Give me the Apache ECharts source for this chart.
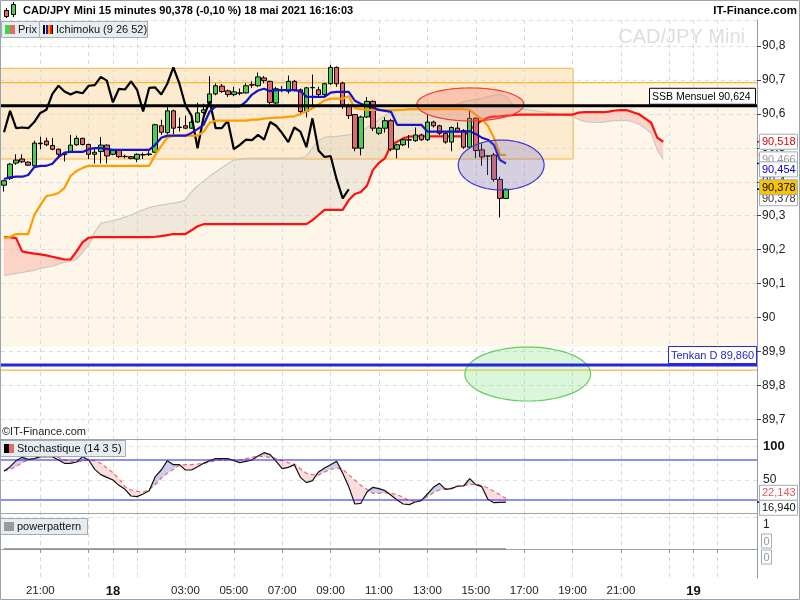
<!DOCTYPE html>
<html>
<head>
<meta charset="utf-8">
<title>CAD/JPY Mini</title>
<script src="https://cdn.jsdelivr.net/npm/echarts@6/dist/echarts.min.js"></script>
<style>
html,body{margin:0;padding:0;background:#fff;}
#chart{width:800px;height:600px;}
</style>
</head>
<body>
<div id="chart"></div>
<script>
// ================= DATA =================
// 15-minute bars, first bar 17 May 19:30, axis runs 125 slots (incl. future cloud)
const firstBar = { day: 17, hour: 19, minute: 30 };
const slotCount = 125;

const tickTimes  = ['17 21:00','17 23:00','18 00:00','18 01:00','18 03:00','18 05:00','18 07:00','18 09:00','18 11:00','18 13:00','18 15:00','18 17:00','18 19:00','18 21:00','18 23:00','19 00:00','19 01:00'];
const tickLabels = ['21:00','','18','','03:00','05:00','07:00','09:00','11:00','13:00','15:00','17:00','19:00','21:00','','19',''];
const dayLabels  = ['18','19'];

const candleOpen = [90.390,90.410,90.455,90.467,90.458,90.447,90.514,90.520,90.507,90.496,
 90.480,90.488,90.509,90.528,90.510,90.481,90.489,90.508,90.481,90.494,
 90.474,90.474,90.467,90.480,90.480,90.487,90.565,90.545,90.609,90.561,
 90.565,90.558,90.576,90.604,90.632,90.659,90.682,90.668,90.657,90.662,
 90.662,90.686,90.683,90.706,90.696,90.632,90.672,90.667,90.696,90.671,
 90.607,90.677,90.671,90.657,90.689,90.737,90.691,90.625,90.598,90.499,
 90.591,90.637,90.543,90.558,90.580,90.496,90.509,90.524,90.521,90.538,
 90.524,90.576,90.565,90.543,90.517,90.558,90.551,90.502,90.587,90.494,
 90.476,90.479,90.407,90.351];
const candleClose = [90.403,90.452,90.464,90.459,90.449,90.514,90.512,90.509,90.496,90.481,
 90.482,90.508,90.528,90.510,90.481,90.487,90.508,90.476,90.492,90.474,
 90.475,90.469,90.481,90.479,90.482,90.568,90.546,90.609,90.558,90.560,
 90.558,90.576,90.603,90.612,90.659,90.683,90.666,90.657,90.665,90.661,
 90.683,90.685,90.709,90.698,90.634,90.674,90.672,90.696,90.671,90.607,
 90.677,90.678,90.657,90.689,90.737,90.689,90.625,90.595,90.499,90.591,
 90.637,90.558,90.558,90.580,90.496,90.509,90.524,90.523,90.538,90.524,
 90.576,90.565,90.543,90.517,90.560,90.548,90.502,90.587,90.492,90.473,
 90.476,90.407,90.351,90.378];
const candleLow = [90.371,90.405,90.450,90.455,90.446,90.445,90.496,90.505,90.493,90.469,
 90.460,90.485,90.506,90.507,90.467,90.454,90.454,90.454,90.478,90.470,
 90.469,90.466,90.458,90.467,90.476,90.485,90.538,90.540,90.540,90.548,
 90.555,90.556,90.574,90.600,90.628,90.655,90.662,90.650,90.652,90.655,
 90.660,90.676,90.680,90.690,90.627,90.628,90.664,90.660,90.666,90.596,
 90.590,90.618,90.650,90.650,90.686,90.680,90.615,90.585,90.490,90.478,
 90.588,90.550,90.538,90.545,90.490,90.469,90.505,90.500,90.518,90.520,
 90.520,90.560,90.538,90.512,90.490,90.544,90.497,90.498,90.470,90.447,
 90.420,90.400,90.295,90.350];
const candleHigh = [90.406,90.455,90.481,90.481,90.460,90.521,90.533,90.530,90.529,90.498,
 90.486,90.538,90.536,90.530,90.512,90.502,90.532,90.510,90.495,90.497,
 90.480,90.476,90.484,90.486,90.490,90.571,90.583,90.620,90.613,90.589,
 90.595,90.585,90.633,90.630,90.711,90.690,90.688,90.672,90.680,90.675,
 90.690,90.696,90.722,90.712,90.698,90.680,90.682,90.713,90.700,90.675,
 90.680,90.716,90.680,90.692,90.745,90.740,90.695,90.630,90.600,90.595,
 90.650,90.640,90.562,90.590,90.585,90.512,90.528,90.538,90.560,90.542,
 90.600,90.580,90.568,90.548,90.563,90.575,90.555,90.613,90.590,90.513,
 90.478,90.485,90.415,90.381];

const tenkan = [90.408,90.413,90.415,90.415,90.420,90.443,90.447,90.447,90.453,90.473,
 90.486,90.488,90.488,90.488,90.496,90.499,90.499,90.497,90.494,90.494,
 90.494,90.494,90.494,90.494,90.494,90.509,90.530,90.536,90.536,90.536,
 90.536,90.544,90.555,90.568,90.607,90.622,90.622,90.622,90.622,90.622,
 90.636,90.657,90.669,90.674,90.667,90.670,90.670,90.670,90.670,90.667,
 90.651,90.650,90.650,90.650,90.663,90.665,90.665,90.665,90.639,90.630,
 90.624,90.618,90.612,90.609,90.606,90.568,90.568,90.568,90.568,90.568,
 90.548,90.548,90.548,90.548,90.548,90.548,90.548,90.549,90.541,90.530,
 90.524,90.509,90.464,90.454];
const kijun = [90.234,90.238,90.246,90.246,90.246,90.302,90.331,90.358,90.361,90.367,
 90.382,90.417,90.432,90.441,90.447,90.447,90.447,90.447,90.447,90.447,
 90.447,90.447,90.447,90.447,90.447,90.479,90.506,90.530,90.536,90.536,
 90.536,90.536,90.536,90.547,90.574,90.580,90.580,90.580,90.580,90.580,
 90.580,90.583,90.583,90.586,90.588,90.589,90.590,90.592,90.593,90.600,
 90.608,90.617,90.628,90.640,90.645,90.645,90.645,90.652,90.617,90.614,
 90.612,90.612,90.612,90.612,90.612,90.612,90.612,90.614,90.614,90.614,
 90.614,90.614,90.614,90.614,90.614,90.614,90.614,90.612,90.598,90.585,
 90.565,90.530,90.479,90.479];
const chikou = [90.546,90.609,90.558,90.560,90.558,90.576,90.603,90.612,90.659,90.683,
 90.666,90.657,90.665,90.661,90.683,90.685,90.709,90.698,90.634,90.674,
 90.672,90.696,90.671,90.607,90.677,90.678,90.657,90.689,90.737,90.689,
 90.625,90.595,90.499,90.591,90.637,90.558,90.558,90.580,90.496,90.509,
 90.524,90.523,90.538,90.524,90.576,90.565,90.543,90.517,90.560,90.548,
 90.502,90.587,90.492,90.473,90.476,90.407,90.351,90.378];
const senkouB = [90.237,90.237,90.234,90.195,90.191,90.188,90.186,90.183,90.179,90.175,
 90.171,90.171,90.195,90.222,90.235,90.237,90.237,90.237,90.237,90.237,
 90.237,90.237,90.237,90.237,90.237,90.238,90.240,90.243,90.246,90.246,
 90.246,90.257,90.269,90.275,90.275,90.275,90.275,90.275,90.275,90.275,
 90.275,90.275,90.275,90.275,90.275,90.275,90.275,90.275,90.275,90.275,
 90.275,90.287,90.302,90.317,90.317,90.317,90.317,90.346,90.364,90.370,
 90.388,90.435,90.456,90.470,90.509,90.518,90.528,90.533,90.534,90.534,
 90.534,90.534,90.534,90.534,90.534,90.534,90.534,90.553,90.568,90.580,
 90.589,90.592,90.593,90.595,90.596,90.598,90.598,90.598,90.598,90.598,
 90.598,90.598,90.598,90.598,90.598,90.604,90.605,90.605,90.605,90.605,
 90.607,90.610,90.611,90.611,90.605,90.599,90.587,90.574,90.530,90.518];
const senkouA = [90.124,90.127,90.130,90.133,90.136,90.139,90.145,90.148,90.151,90.157,
 90.163,90.166,90.172,90.192,90.213,90.251,90.278,90.281,90.286,90.290,
 90.296,90.302,90.311,90.317,90.324,90.328,90.331,90.334,90.337,90.340,
 90.346,90.370,90.388,90.402,90.416,90.429,90.441,90.453,90.464,90.467,
 90.469,90.470,90.470,90.470,90.470,90.470,90.470,90.470,90.470,90.470,
 90.476,90.500,90.521,90.531,90.533,90.534,90.536,90.538,90.543,90.550,
 90.559,90.571,90.583,90.595,90.604,90.609,90.612,90.612,90.612,90.612,
 90.613,90.614,90.617,90.621,90.626,90.630,90.636,90.639,90.642,90.646,
 90.651,90.655,90.657,90.652,90.630,90.618,90.614,90.612,90.609,90.607,
 90.604,90.601,90.598,90.595,90.593,90.584,90.578,90.576,90.575,90.575,
 90.579,90.580,90.580,90.581,90.577,90.570,90.558,90.544,90.494,90.466];

const stochK = [63,70,79,84,81,82,85,85,85,80,
 75,75,77,85,80,66,58,54,50,42,
 36,26,25,29,34,55,65,79,73,73,
 65,65,70,75,79,82,82,82,79,76,
 78,80,86,91,88,78,67,69,73,54,
 46,49,62,68,73,78,60,40,14,15,
 32,39,37,34,27,20,14,13,17,19,
 29,39,45,36,37,41,41,52,43,40,
 21,16,16.5,16.94];
const stochD = [64,66,70,76,80,82,84,85,85,84,
 80,78,77,78,80,79,75,68,61,52,
 40,35,33,32,36,43,53,60,66,72,
 73,73,74,75,77,79,80,80,80,80,
 82,84,86,85,84,82,79,76,74,67,
 60,58,57.5,62,66,68,66,58,50,42,
 36,30,30,31,30,28,24,19,18,20,
 25,31,35,37,38,40,42,43,44,42,
 38,33,28,22.143];
const stochLevels = [80, 20];

const powerPattern = [0,0,0,0,0,0,0,0,0,0,0,0,0,0,0,0,0,0,0,0,0,0,0,0,0,0,0,0,0,0,
 0,0,0,0,0,0,0,0,0,0,0,0,0,0,0,0,0,0,0,0,0,0,0,0,0,0,0,0,0,0,
 0,0,0,0,0,0,0,0,0,0,0,0,0,0,0,0,0,0,0,0,0,0,0,0];

// chart annotations (price levels)
const ssbMensuel = 90.624;
const tenkanDaily = 89.860;
const orangeLevels = [90.692, 89.845];
const zoneTop = 90.692, zoneBottom = 89.913;
const boxTop = 90.7345, boxBottom = 90.467, boxEndBar = 94.1;
const ellipses = [
  { cx: 77.1, cy: 90.628, rx: 8.85, ry: 0.0486 },
  { cx: 82.2, cy: 90.4494, rx: 7.1, ry: 0.0737 },
  { cx: 86.6, cy: 89.8335, rx: 10.4, ry: 0.0796 }
];
const ellipseStyles = [
  { fill: 'rgba(247,120,100,0.33)', stroke: '#ef3d3d' },
  { fill: 'rgba(105,105,205,0.27)', stroke: '#3d3dd6' },
  { fill: 'rgba(150,228,150,0.33)', stroke: '#5fcf5f' }
];

// ================= BUILD =================
const FONT = "'Liberation Sans', Arial, sans-serif";
const cats = [];
for (let i = 0; i < slotCount; i++) {
  const m = firstBar.hour * 60 + firstBar.minute + 15 * i;
  const d = firstBar.day + Math.floor(m / 1440);
  const mm = m % 1440;
  cats.push(d + ' ' + String(Math.floor(mm / 60)).padStart(2, '0') + ':' + String(mm % 60).padStart(2, '0'));
}
const tickIdx = new Set(tickTimes.map(t => cats.indexOf(t)));
const labelMap = {};
tickTimes.forEach((t, k) => { if (tickLabels[k]) labelMap[t] = tickLabels[k]; });
const labelIdx = new Set(Object.keys(labelMap).map(t => cats.indexOf(t)));

const candles = candleOpen.map((o, i) => [o, candleClose[i], candleLow[i], candleHigh[i]]);
const cloudBase = senkouA.map((a, i) => Math.min(a, senkouB[i]));
const cloudPink = senkouA.map((a, i) => Math.max(senkouB[i] - a, 0));
const cloudGrey = senkouA.map((a, i) => Math.max(a - senkouB[i], 0));
const stBase = stochK.map((k, i) => Math.min(k, stochD[i]));
const stPink = stochK.map((k, i) => Math.max(stochD[i] - k, 0));
const stBlue = stochK.map((k, i) => Math.max(k - stochD[i], 0));

function fmtPrice(v) {
  const r = Math.round(v * 10);
  if (Math.abs(v * 10 - r) > 1e-6) return '';
  let s = (r / 10).toFixed(1);
  if (s.endsWith('.0')) s = s.slice(0, -2);
  return s.replace('.', ',');
}
const fmt3 = v => v.toFixed(3).replace('.', ',');

function xAxisFor(gi, bottom) {
  return {
    type: 'category', gridIndex: gi, data: cats, boundaryGap: true,
    axisLine: { show: true, lineStyle: { color: '#98a4ad', width: 1 } },
    axisTick: { show: bottom, alignWithLabel: true, interval: (i) => tickIdx.has(i), length: 4, lineStyle: { color: '#8b979f' } },
    axisLabel: {
      show: bottom, interval: (i) => labelIdx.has(i), margin: 7, color: '#222', fontSize: 11.5, fontFamily: FONT,
      formatter: (v) => { const l = labelMap[v] || ''; return dayLabels.includes(l) ? '{b|' + l + '}' : l; },
      rich: { b: { fontWeight: 'bold', fontSize: 13, color: '#111', fontFamily: FONT } }
    },
    splitLine: { show: true, alignWithLabel: true, interval: (i) => tickIdx.has(i), lineStyle: { color: '#d9d9d9', type: [4, 4], width: 1 } }
  };
}
function lineS(data, color, width, xi, extra) {
  return Object.assign({
    type: 'line', data: data, xAxisIndex: xi, yAxisIndex: xi, symbol: 'none', smooth: false,
    lineStyle: { color: color, width: width }, itemStyle: { color: color }, silent: true, animation: false
  }, extra || {});
}
function stackS(data, stack, fill, xi, z) {
  return {
    type: 'line', data: data, xAxisIndex: xi, yAxisIndex: xi, stack: stack, symbol: 'none',
    lineStyle: { opacity: 0, width: 0 }, areaStyle: fill ? { color: fill, opacity: 1 } : undefined,
    silent: true, z: z, animation: false
  };
}

const chart = echarts.init(document.getElementById('chart'), null, { renderer: 'canvas', width: 800, height: 600 });

const option = {
  animation: false,
  backgroundColor: '#ffffff',
  textStyle: { fontFamily: FONT },
  grid: [
    { left: 1, right: 43, top: 20, height: 419, containLabel: false, outerBoundsMode: 'none' },
    { left: 1, right: 43, top: 439, height: 78, containLabel: false, outerBoundsMode: 'none' },
    { left: 1, right: 43, top: 517, height: 61, containLabel: false, outerBoundsMode: 'none' }
  ],
  xAxis: [xAxisFor(0, false), xAxisFor(1, false), xAxisFor(2, true)],
  yAxis: [
    {
      type: 'value', gridIndex: 0, position: 'right', min: 89.6419, max: 90.8768, splitNumber: 12,
      axisLine: { show: true, lineStyle: { color: '#8e9ba6' } },
      axisTick: { show: true, length: 4, lineStyle: { color: '#444' } },
      axisLabel: { formatter: fmtPrice, color: '#222', fontSize: 12, margin: 5, showMinLabel: false, showMaxLabel: false, fontFamily: FONT },
      splitLine: { show: true, lineStyle: { color: '#dcdcdc', type: [4, 4] } }
    },
    {
      type: 'value', gridIndex: 1, position: 'right', min: -5.5, max: 111.5, splitNumber: 2,
      axisLine: { show: true, lineStyle: { color: '#8e9ba6' } },
      axisTick: { show: false },
      axisLabel: {
        color: '#222', fontSize: 12, margin: 6, showMinLabel: false, showMaxLabel: false, fontFamily: FONT,
        formatter: v => v === 100 ? '{b|100}' : (v === 50 ? '50' : ''),
        rich: { b: { fontWeight: 'bold', fontSize: 13, color: '#111', fontFamily: FONT } }
      },
      splitLine: { show: true, lineStyle: { color: '#e2e2e2', type: [4, 4] } }
    },
    {
      type: 'value', gridIndex: 2, position: 'right', min: -1.2083, max: 1.3333, splitNumber: 2,
      axisLine: { show: true, lineStyle: { color: '#8e9ba6' } },
      axisTick: { show: false },
      axisLabel: { color: '#222', fontSize: 12, margin: 6, showMinLabel: false, showMaxLabel: false, fontFamily: FONT,
        formatter: v => v === 1 ? '1' : '' },
      splitLine: { show: false }
    }
  ],
  series: [
    stackS(cloudBase, 'cloud', null, 0, 1),
    stackS(cloudPink, 'cloud', 'rgba(247,175,165,0.5)', 0, 1),
    stackS(cloudGrey, 'cloud', 'rgba(190,185,175,0.22)', 0, 1),
    lineS(senkouA, '#c9c9c9', 1.2, 0, { z: 2 }),
    lineS(senkouB, '#ff1010', 2.2, 0, { z: 2 }),
    {
      type: 'candlestick', data: candles, xAxisIndex: 0, yAxisIndex: 0, barWidth: 5, z: 3, silent: true,
      itemStyle: { color: '#4cd04c', color0: '#e46a6a', borderColor: '#000', borderColor0: '#000', borderWidth: 1 }
    },
    lineS(chikou, '#000000', 2.2, 0, { z: 4 }),
    lineS(kijun, '#ff9c00', 2.2, 0, { z: 4 }),
    lineS(tenkan, '#1414c8', 2.2, 0, { z: 4 }),
    stackS(stBase, 'st', null, 1, 1),
    stackS(stPink, 'st', 'rgba(242,160,160,0.35)', 1, 1),
    stackS(stBlue, 'st', 'rgba(125,125,215,0.38)', 1, 1),
    lineS(stochD, '#ea6a6a', 1.2, 1, { z: 3, lineStyle: { color: '#ea6a6a', width: 1.2, type: [4, 3] } }),
    lineS(stochK, '#111111', 1.2, 1, { z: 4 }),
    lineS(powerPattern, '#8a8a8a', 1.5, 2, { z: 3 })
  ]
};
chart.setOption(option);

// ================= ANNOTATIONS (positioned through the chart's scales) =================
function buildGraphics() {
  const g = [];
  const xa = chart.convertToPixel({ xAxisIndex: 0 }, 0);
  const xb = chart.convertToPixel({ xAxisIndex: 0 }, 100);
  const bw = (xb - xa) / 100;
  const xAt = i => xa + i * bw;
  const yAt = v => chart.convertToPixel({ yAxisIndex: 0 }, v);
  const ySt = v => chart.convertToPixel({ yAxisIndex: 1 }, v);
  const yPp = v => chart.convertToPixel({ yAxisIndex: 2 }, v);
  const L = 1, R = 757;
  const F11 = '11px ' + FONT;

  // background zones
  g.push({ type: 'rect', z: -2, silent: true, shape: { x: L, y: yAt(zoneTop), width: R - L, height: yAt(zoneBottom) - yAt(zoneTop) }, style: { fill: '#fef6e8' } });
  g.push({ type: 'rect', z: -1, silent: true, shape: { x: L - 2, y: yAt(boxTop), width: xAt(boxEndBar) - L + 2, height: yAt(boxBottom) - yAt(boxTop) }, style: { fill: '#fdebd0', stroke: '#fbb23a', lineWidth: 1 } });
  orangeLevels.forEach(v => {
    g.push({ type: 'line', z: -0.5, silent: true, shape: { x1: L, y1: yAt(v), x2: R, y2: yAt(v) }, style: { stroke: '#ffb52e', lineWidth: 1.2 } });
  });

  // ellipses
  ellipses.forEach((e, k) => {
    const pts = [];
    for (let t = 0; t < 72; t++) {
      const a = t / 72 * Math.PI * 2;
      pts.push([xAt(e.cx + e.rx * Math.cos(a)), yAt(e.cy + e.ry * Math.sin(a))]);
    }
    g.push({ type: 'polygon', z: 9, silent: true, shape: { points: pts }, style: { fill: ellipseStyles[k].fill, stroke: ellipseStyles[k].stroke, lineWidth: 1.2 } });
  });

  // level lines
  const yS = yAt(ssbMensuel), yT = yAt(tenkanDaily);
  g.push({ type: 'line', z: 10, silent: true, shape: { x1: L, y1: yS, x2: R, y2: yS }, style: { stroke: '#000', lineWidth: 3 } });
  g.push({ type: 'line', z: 10, silent: true, shape: { x1: L, y1: yT, x2: R, y2: yT }, style: { stroke: '#2626e0', lineWidth: 3 } });
  g.push({ type: 'rect', z: 11, silent: true, shape: { x: 649.5, y: yS - 17.5, width: 106, height: 16 }, style: { fill: '#fff', stroke: '#000', lineWidth: 1 } });
  g.push({ type: 'text', z: 12, silent: true, x: 652, y: yS - 9, style: { text: 'SSB Mensuel ' + fmt3(ssbMensuel), fill: '#000', font: '10.5px ' + FONT, verticalAlign: 'middle', textVerticalAlign: 'middle' } });
  g.push({ type: 'rect', z: 11, silent: true, shape: { x: 668.5, y: yT - 18.5, width: 88, height: 17 }, style: { fill: '#fff', stroke: '#2626e0', lineWidth: 1 } });
  g.push({ type: 'text', z: 12, silent: true, x: 671, y: yT - 9.5, style: { text: 'Tenkan D ' + fmt3(tenkanDaily), fill: '#2626cc', font: '11px ' + FONT, verticalAlign: 'middle', textVerticalAlign: 'middle' } });

  // right price tags
  const lastI = candleClose.length - 1;
  const tags = [
    { v: senkouB[senkouB.length - 1], c: '#e00000', bg: '#fff' },
    { v: senkouA[senkouA.length - 1], c: '#9a9a9a', bg: '#fff' },
    { v: tenkan[lastI], c: '#0000d0', bg: '#fff' },
    { v: candleClose[lastI], c: '#000', bg: '#f8c400' },
    { v: chikou[chikou.length - 1], c: '#333', bg: '#fff' }
  ];
  let prev = -1e9;
  tags.forEach(t => { let y = yAt(t.v); if (y < prev + 10) y = prev + 10; t.y = y; prev = y; });
  tags[3].y -= 2; tags[4].y -= 1;
  const order = [0, 1, 2, 4, 3];
  [[senkouB[senkouB.length - 1], '#e00000'], [kijun[lastI], '#ff9c00'], [tenkan[lastI], '#0000d0'], [candleClose[lastI], '#000']].forEach(p => {
    g.push({ type: 'line', z: 12, silent: true, shape: { x1: 757, y1: yAt(p[0]), x2: 762, y2: yAt(p[0]) }, style: { stroke: p[1], lineWidth: 1.5 } });
  });
  order.forEach((k, n) => {
    const t = tags[k];
    g.push({ type: 'rect', z: 13 + n * 0.1, silent: true, shape: { x: 759.5, y: t.y - 7.5, width: 38, height: 15 }, style: { fill: t.bg, stroke: '#a3adb5', lineWidth: 1 } });
    g.push({ type: 'text', z: 13.05 + n * 0.1, silent: true, x: 762, y: t.y + 0.5, style: { text: fmt3(t.v), fill: t.c, font: F11, verticalAlign: 'middle', textVerticalAlign: 'middle' } });
  });

  // stochastic levels & tags
  stochLevels.forEach(v => {
    g.push({ type: 'line', z: 5, silent: true, shape: { x1: L, y1: ySt(v), x2: R, y2: ySt(v) }, style: { stroke: '#2020e0', lineWidth: 1.2 } });
  });
  const dV = stochD[stochD.length - 1], kV = stochK[stochK.length - 1];
  const mid = (ySt(dV) + ySt(kV)) / 2;
  [[dV, mid - 7.5, '#e05a5a'], [kV, mid + 7.5, '#111']].forEach(p => {
    g.push({ type: 'rect', z: 13, silent: true, shape: { x: 759.5, y: p[1] - 7.5, width: 38, height: 15 }, style: { fill: '#fff', stroke: '#a3adb5', lineWidth: 1 } });
    g.push({ type: 'text', z: 14, silent: true, x: 762, y: p[1] + 0.5, style: { text: p[0].toFixed(3).replace('.', ','), fill: p[2], font: F11, verticalAlign: 'middle', textVerticalAlign: 'middle' } });
  });
  g.push({ type: 'line', z: 12, silent: true, shape: { x1: 757, y1: ySt(kV), x2: 761, y2: ySt(kV) }, style: { stroke: '#111', lineWidth: 1.5 } });

  // powerpattern tags
  const y0 = yPp(powerPattern[powerPattern.length - 1]);
  [y0 - 8, y0 + 8].forEach(y => {
    g.push({ type: 'rect', z: 13, silent: true, shape: { x: 761.5, y: y - 7, width: 10, height: 14 }, style: { fill: '#fff', stroke: '#a3adb5', lineWidth: 1 } });
    g.push({ type: 'text', z: 14, silent: true, x: 763.5, y: y + 0.5, style: { text: '0', fill: '#999', font: F11, verticalAlign: 'middle', textVerticalAlign: 'middle' } });
  });

  // title bar
  g.push({ type: 'line', z: 20, silent: true, shape: { x1: 6.5, y1: 8, x2: 6.5, y2: 18 }, style: { stroke: '#000', lineWidth: 1 } });
  g.push({ type: 'rect', z: 21, silent: true, shape: { x: 4.5, y: 10.5, width: 4, height: 6 }, style: { fill: '#e46a6a', stroke: '#000', lineWidth: 1 } });
  g.push({ type: 'line', z: 20, silent: true, shape: { x1: 13.5, y1: 2, x2: 13.5, y2: 17 }, style: { stroke: '#000', lineWidth: 1 } });
  g.push({ type: 'rect', z: 21, silent: true, shape: { x: 11.5, y: 4.5, width: 4, height: 10 }, style: { fill: '#4cd04c', stroke: '#000', lineWidth: 1 } });
  g.push({ type: 'text', z: 21, silent: true, x: 23, y: 11, style: { text: 'CAD/JPY Mini 15 minutes 90,378 (-0,10 %) 18 mai 2021 16:16:03', fill: '#000', font: 'bold 11px ' + FONT, verticalAlign: 'middle', textVerticalAlign: 'middle' } });
  g.push({ type: 'text', z: 21, silent: true, x: 797, y: 11, style: { text: 'IT-Finance.com', fill: '#000', font: 'bold 11.5px ' + FONT, align: 'right', textAlign: 'right', verticalAlign: 'middle', textVerticalAlign: 'middle' } });
  g.push({ type: 'text', z: 0, silent: true, x: 745, y: 37, style: { text: 'CAD/JPY Mini', fill: '#dedede', font: '20px ' + FONT, align: 'right', textAlign: 'right', verticalAlign: 'middle', textVerticalAlign: 'middle' } });

  // tabs
  function tab(x, y, w, h, label) {
    g.push({ type: 'rect', z: 20, silent: true, shape: { x: x + 0.5, y: y + 0.5, width: w, height: h }, style: { fill: '#e6ecf0', stroke: '#a3adb5', lineWidth: 1 } });
    g.push({ type: 'text', z: 22, silent: true, x: x + 17, y: y + h / 2 + 1, style: { text: label, fill: '#111', font: F11, verticalAlign: 'middle', textVerticalAlign: 'middle' } });
  }
  function sq(x, y, w, h, c) { g.push({ type: 'rect', z: 21, silent: true, shape: { x: x, y: y, width: w, height: h }, style: { fill: c } }); }
  tab(1, 21, 38, 16, 'Prix');
  sq(5, 25, 5, 9, '#4cd04c'); sq(10, 25, 5, 9, '#e46a6a');
  tab(39, 21, 108, 16, 'Ichimoku (9 26 52)');
  sq(43, 25, 2, 9, '#000'); sq(46, 25, 2, 9, '#1414c8'); sq(48, 25, 2, 9, '#ff9c00'); sq(50, 25, 2, 9, '#ff1010'); sq(52, 25, 1, 9, '#000');
  tab(0, 440, 125, 16, 'Stochastique (14 3 5)');
  sq(4, 444, 5, 9, '#000'); sq(9, 444, 5, 9, '#e46a6a');
  tab(0, 518, 87, 16, 'powerpattern');
  sq(4, 522, 10, 9, '#9a9a9a');

  g.push({ type: 'text', z: 20, silent: true, x: 2, y: 432, style: { text: '©IT-Finance.com', fill: '#222', font: F11, verticalAlign: 'middle', textVerticalAlign: 'middle' } });

  // frame
  g.push({ type: 'rect', z: 30, silent: true, shape: { x: 0.5, y: 0.5, width: 799, height: 599 }, style: { fill: 'none', stroke: '#98a4ad', lineWidth: 1 } });
  return g;
}
chart.setOption({ graphic: { elements: buildGraphics() } });
</script>
</body>
</html>
